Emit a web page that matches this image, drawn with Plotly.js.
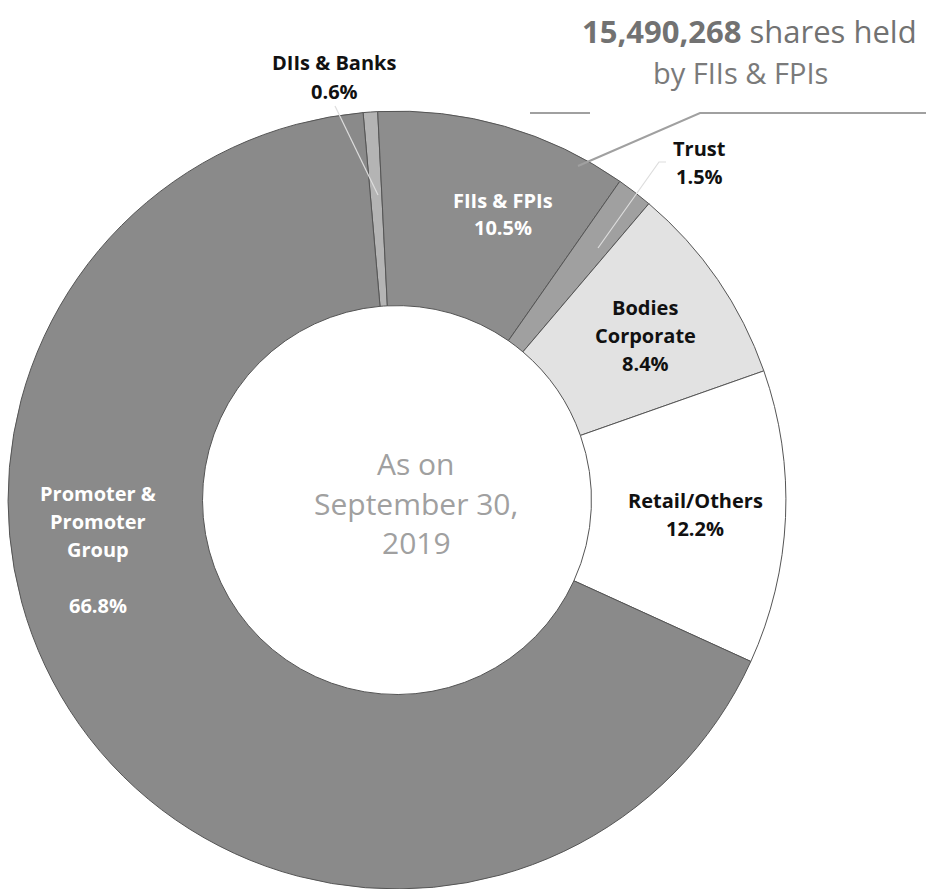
<!DOCTYPE html>
<html>
<head>
<meta charset="utf-8">
<script src="https://cdn.plot.ly/plotly-3.0.1.min.js"></script>
<style>html,body{margin:0;padding:0;background:#fff;}#chart{width:926px;height:889px;}</style>
</head>
<body>
<div id="chart"></div>
<script>
// ---- data ----
const categories = ["DIIs & Banks", "FIIs & FPIs", "Trust", "Bodies Corporate", "Retail/Others", "Promoter & Promoter Group"];
const shares = [0.6, 10.5, 1.5, 8.4, 12.2, 66.8];
const labelLines = [["DIIs & Banks"], ["FIIs & FPIs"], ["Trust"], ["Bodies", "Corporate"], ["Retail/Others"], ["Promoter &", "Promoter", "Group", ""]];
const centerText = ["As on", "September 30,", "2019"];
const fiiSharesHeld = "15,490,268";

// ---- styling ----
const sliceColors = ["#b4b4b4", "#8d8d8d", "#a0a0a0", "#e2e2e2", "#ffffff", "#8a8a8a"];
const labelColors = ["#111", "#fff", "#111", "#111", "#111", "#fff"];
// label anchor (centre x, first-line y) in pixels (layout only)
const labelPos = [[334, 63], [503, 200], [699, 148], [645, 307], [695, 500], [98, 493]];
const lineStep = 28;

const W = 926, H = 889;
const px = x => x / W, py = y => 1 - y / H;

const annotations = [];
categories.forEach((c, i) => {
  const lines = labelLines[i].concat([shares[i].toFixed(1) + '%']);
  lines.forEach((ln, k) => {
    if (!ln) return;
    annotations.push({
      xref: 'paper', yref: 'paper', x: px(labelPos[i][0]), y: py(labelPos[i][1] + k * lineStep),
      xanchor: 'center', yanchor: 'middle', showarrow: false, align: 'center',
      text: '<b>' + ln + '</b>',
      font: {family: 'Open Sans, sans-serif', size: 20, color: labelColors[i]}
    });
  });
});

const centerY = [463, 503, 542];
centerText.forEach((t, k) => annotations.push({
  xref: 'paper', yref: 'paper', x: px(416), y: py(centerY[k]), xanchor: 'center', yanchor: 'middle',
  showarrow: false, text: t,
  font: {family: 'Open Sans, sans-serif', size: 30, color: '#a0a0a0'}
}));

annotations.push({
  xref: 'paper', yref: 'paper', x: px(919), y: py(31), xanchor: 'right', yanchor: 'middle',
  showarrow: false, text: '<b>' + fiiSharesHeld + '</b> shares held',
  font: {family: 'Open Sans, sans-serif', size: 31, color: '#727272'}
});
annotations.push({
  xref: 'paper', yref: 'paper', x: px(740), y: py(73), xanchor: 'center', yanchor: 'middle',
  showarrow: false, text: 'by FIIs & FPIs',
  font: {family: 'Open Sans, sans-serif', size: 29, color: '#7a7a7a'}
});

const shapes = [
  {type: 'path', xref: 'paper', yref: 'paper',
   path: `M ${px(578)} ${py(166)} L ${px(700)} ${py(113)} L ${px(926)} ${py(113)}`,
   line: {color: '#a0a0a0', width: 2}},
  {type: 'line', xref: 'paper', yref: 'paper', x0: px(530), y0: py(113), x1: px(590), y1: py(113),
   line: {color: '#a0a0a0', width: 2}},
  {type: 'line', xref: 'paper', yref: 'paper', x0: px(335), y0: py(106), x1: px(378), y1: py(195),
   line: {color: '#dddddd', width: 1.2}},
  {type: 'path', xref: 'paper', yref: 'paper',
   path: `M ${px(666)} ${py(162)} L ${px(659)} ${py(162)} L ${px(598)} ${py(248)}`,
   line: {color: '#dddddd', width: 1.2}}
];

const trace = {
  type: 'pie',
  labels: categories,
  values: shares,
  sort: false,
  direction: 'clockwise',
  rotation: -5,
  hole: 0.5,
  textinfo: 'none',
  hoverinfo: 'label+percent',
  marker: {colors: sliceColors, line: {color: '#555555', width: 1}},
  domain: {x: [0.0086, 0.8488], y: [0, 0.875]},
  showlegend: false
};

Plotly.newPlot('chart', [trace], {
  width: W, height: H,
  margin: {l: 0, r: 0, t: 0, b: 0},
  paper_bgcolor: '#ffffff',
  showlegend: false,
  annotations: annotations,
  shapes: shapes
}, {displayModeBar: false, staticPlot: true});
</script>
</body>
</html>
